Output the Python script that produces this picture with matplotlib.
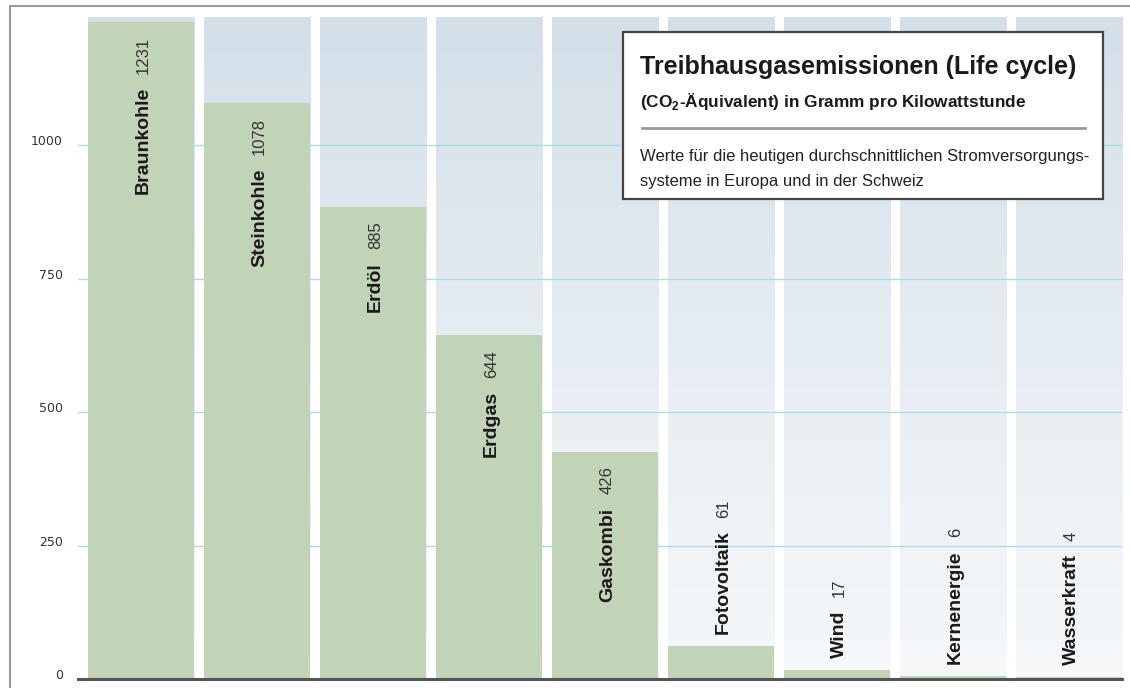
import matplotlib.pyplot as plt
import numpy as np
from matplotlib.colors import LinearSegmentedColormap
from matplotlib.lines import Line2D
from matplotlib.patches import Rectangle
from matplotlib.transforms import ScaledTranslation

# data
sources = ['Braunkohle', 'Steinkohle', 'Erdöl', 'Erdgas', 'Gaskombi',
           'Fotovoltaik', 'Wind', 'Kernenergie', 'Wasserkraft']
emissions = [1231, 1078, 885, 644, 426, 61, 17, 6, 4]
yticks = [0, 250, 500, 750, 1000]
title = 'Treibhausgasemissionen (Life cycle)'
subtitle = r'(CO$_\mathbf{2}$-Äquivalent) in Gramm pro Kilowattstunde'
note = ['Werte für die heutigen durchschnittlichen Stromversorgungs-',
        'systeme in Europa und in der Schweiz']

plt.rcParams['font.family'] = ['Liberation Sans', 'DejaVu Sans']
plt.rcParams['mathtext.fontset'] = 'custom'
plt.rcParams['mathtext.bf'] = 'Liberation Sans:bold'
plt.rcParams['mathtext.rm'] = 'Liberation Sans:bold'

W, H = 1130, 688
fig = plt.figure(figsize=(W / 100, H / 100), dpi=100)


def fx(x):
    return x / W


def fy(y):
    return 1 - y / H


PT = 0.72  # points per pixel at dpi 100
ymax = 1240
bw = 0.914
x = np.arange(len(sources))

ax = fig.add_axes([fx(78), fy(679), fx(1122) - fx(78), fy(17) - fy(679)])

# background columns with a soft vertical gradient
grad = np.linspace(1, 0, 256).reshape(-1, 1)
cmap = LinearSegmentedColormap.from_list(
    'bg', [(0, '#f6f8fa'), (0.5, '#e6edf2'), (1, '#d3dfe9')])
for i in x:
    ax.imshow(grad, extent=[i - bw / 2, i + bw / 2, 0, ymax], cmap=cmap,
              aspect='auto', vmin=0, vmax=1, zorder=0)

for t in yticks[1:]:
    ax.axhline(t, color='#b0d8e6', lw=1, zorder=1)

ax.bar(x, emissions, width=bw, color='#c1d4b7', zorder=2)
ax.axhline(0, color='#555555', lw=2.2, zorder=3, clip_on=False)

ax.set_xlim(-0.543, 8.457)
ax.set_ylim(0, ymax)
ax.set_xticks([])
ax.set_yticks(yticks)
ax.set_yticklabels([str(t) for t in yticks], family='Liberation Sans Narrow',
                   fontsize=9, color='#333333')
ax.tick_params(axis='y', length=0, pad=15 * PT)
# labels sit a few pixels above their grid line
shift = ScaledTranslation(0, 5 / 100, fig.dpi_scale_trans)
for lab in ax.get_yticklabels():
    lab.set_transform(lab.get_transform() + shift)
for s in ax.spines.values():
    s.set_visible(False)

# rotated labels: bold name + regular value
fig.canvas.draw()
r = fig.canvas.get_renderer()
dx = 7 * PT
gap = 13
name_kw = dict(rotation=90, rotation_mode='anchor', va='baseline',
               fontsize=14, fontweight='bold', color='#1a1a1a', zorder=4,
               textcoords='offset points')
val_kw = dict(rotation=90, rotation_mode='anchor', va='baseline',
              fontsize=12, color='#333333', zorder=4,
              textcoords='offset points')
for i, (name, val) in enumerate(zip(sources, emissions)):
    if val > 300:
        tv = ax.annotate(str(val), (i, val), xytext=(dx, -15 * PT), ha='right', **val_kw)
        lv = tv.get_window_extent(r).height
        ax.annotate(name, (i, val), xytext=(dx, -(15 + lv + gap) * PT), ha='right', **name_kw)
    else:
        tn = ax.annotate(name, (i, val), xytext=(dx, 12 * PT), ha='left', **name_kw)
        ln = tn.get_window_extent(r).height
        ax.annotate(str(val), (i, val), xytext=(dx, (12 + ln + gap) * PT), ha='left', **val_kw)

# info box
fig.add_artist(Rectangle((fx(623), fy(199)), fx(1103) - fx(623), fy(32) - fy(199),
                         transform=fig.transFigure, facecolor='white',
                         edgecolor='#444444', lw=1.6, zorder=5))
fig.text(fx(640), fy(74), title, fontsize=18, fontweight='bold', color='#1a1a1a',
         va='baseline', zorder=6)
fig.text(fx(640), fy(107), subtitle, fontsize=12.4, fontweight='bold', color='#1a1a1a',
         va='baseline', zorder=6)
fig.add_artist(Line2D([fx(642), fx(1085)], [fy(128), fy(128)], transform=fig.transFigure,
                      color='#9a9a9a', lw=2, zorder=6))
fig.text(fx(640), fy(161), note[0], fontsize=12, color='#222222', va='baseline', zorder=6)
fig.text(fx(640), fy(186), note[1], fontsize=12, color='#222222', va='baseline', zorder=6)

# outer frame (left and top visible)
fig.add_artist(Line2D([fx(10), fx(10), 1], [0, fy(6), fy(6)], transform=fig.transFigure,
                      color='#9a9a9a', lw=1.5))

fig.savefig('out.png', dpi=100)
